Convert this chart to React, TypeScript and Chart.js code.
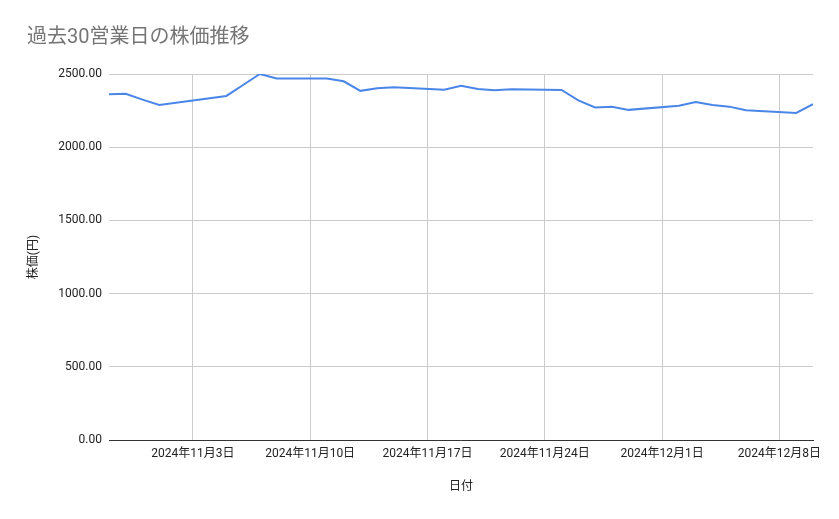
import React, { useEffect, useRef } from "react";
import { Chart, registerables } from "chart.js";

Chart.register(...registerables);

const titleText = "過去30営業日の株価推移";
const xAxisTitle = "日付";
const yAxisTitle = "株価(円)";

const dates = [
  "2024-10-29", "2024-10-30", "2024-10-31", "2024-11-01",
  "2024-11-05", "2024-11-06", "2024-11-07", "2024-11-08",
  "2024-11-11", "2024-11-12", "2024-11-13", "2024-11-14", "2024-11-15",
  "2024-11-18", "2024-11-19", "2024-11-20", "2024-11-21", "2024-11-22",
  "2024-11-25", "2024-11-26", "2024-11-27", "2024-11-28", "2024-11-29",
  "2024-12-02", "2024-12-03", "2024-12-04", "2024-12-05", "2024-12-06",
  "2024-12-09", "2024-12-10",
];

const prices = [
  2361, 2365, 2325, 2288,
  2350, 2425, 2500, 2470,
  2470, 2450, 2385, 2402, 2410,
  2393, 2420, 2398, 2389, 2395,
  2391, 2320, 2271, 2276, 2255,
  2283, 2309, 2288, 2277, 2252,
  2234, 2295,
];

const xTickDates = ["2024-11-03", "2024-11-10", "2024-11-17", "2024-11-24", "2024-12-01", "2024-12-08"];
const xMinDate = "2024-10-29";
const xMaxDate = "2024-12-10";
const yTicks = [0, 500, 1000, 1500, 2000, 2500];

const dayNum = (s: string) => {
  const [y, m, d] = s.split("-").map(Number);
  return Date.UTC(y, m - 1, d) / 86400000;
};
const fmtDate = (n: number) => {
  const dt = new Date(n * 86400000);
  return `${dt.getUTCFullYear()}年${dt.getUTCMonth() + 1}月${dt.getUTCDate()}日`;
};

const FONT = "Roboto, 'Noto Sans CJK JP', Arial, sans-serif";

export default function App() {
  const ref = useRef<HTMLCanvasElement | null>(null);

  useEffect(() => {
    document.body.style.margin = "0";
    const canvas = ref.current;
    if (!canvas) return;
    const chart = new Chart(canvas, {
      type: "line",
      data: {
        datasets: [
          {
            data: dates.map((d, i) => ({ x: dayNum(d), y: prices[i] })),
            borderColor: "#4a86e8",
            backgroundColor: "#4a86e8",
            borderWidth: 2,
            pointRadius: 0,
            tension: 0,
            fill: false,
          },
        ],
      },
      options: {
        responsive: false,
        animation: false,
        devicePixelRatio: 1,
        layout: { padding: { left: 27, right: 26, top: 0, bottom: 0 } },
        plugins: {
          legend: { display: false },
          tooltip: { enabled: false },
          title: {
            display: true,
            text: titleText,
            align: "start",
            color: "#757575",
            font: { family: FONT, size: 20, weight: "normal" },
            padding: { top: 26, bottom: 24 },
          },
        },
        scales: {
          x: {
            type: "linear",
            min: dayNum(xMinDate),
            max: dayNum(xMaxDate),
            afterBuildTicks: (scale: any) => {
              scale.ticks = xTickDates.map((d) => ({ value: dayNum(d) }));
            },
            afterFit: (scale: any) => {
              scale.height = 79;
              scale.paddingLeft = 0;
              scale.paddingRight = 0;
            },
            ticks: {
              callback: (v: any) => fmtDate(Number(v)),
              color: "#222222",
              font: { family: FONT, size: 12 },
              padding: 7,
              maxRotation: 0,
              autoSkip: false,
            },
            grid: { color: "#cccccc", drawTicks: false, lineWidth: 1 },
            border: { display: true, color: "#333333", width: 1 },
            title: {
              display: true,
              text: xAxisTitle,
              color: "#222222",
              font: { family: FONT, size: 12 },
              padding: { top: 0, bottom: 25 },
            },
          },
          y: {
            type: "linear",
            min: 0,
            max: 2500,
            afterBuildTicks: (scale: any) => {
              scale.ticks = yTicks.map((v) => ({ value: v }));
            },
            afterFit: (scale: any) => {
              scale.width = 82;
              scale.paddingTop = 0;
              scale.paddingBottom = 0;
            },
            ticks: {
              callback: (v: any) => Number(v).toFixed(2),
              color: "#222222",
              font: { family: FONT, size: 12 },
              padding: 7,
            },
            grid: { color: "#cccccc", drawTicks: false, lineWidth: 1 },
            border: { display: false },
            title: {
              display: true,
              text: yAxisTitle,
              color: "#222222",
              font: { family: FONT, size: 12 },
              padding: { top: 0, bottom: 0 },
            },
          },
        },
      },
    });
    return () => chart.destroy();
  }, []);

  return (
    <div style={{ width: 839, height: 519 }}>
      <canvas ref={ref} width={839} height={519} style={{ display: "block" }} />
    </div>
  );
}
